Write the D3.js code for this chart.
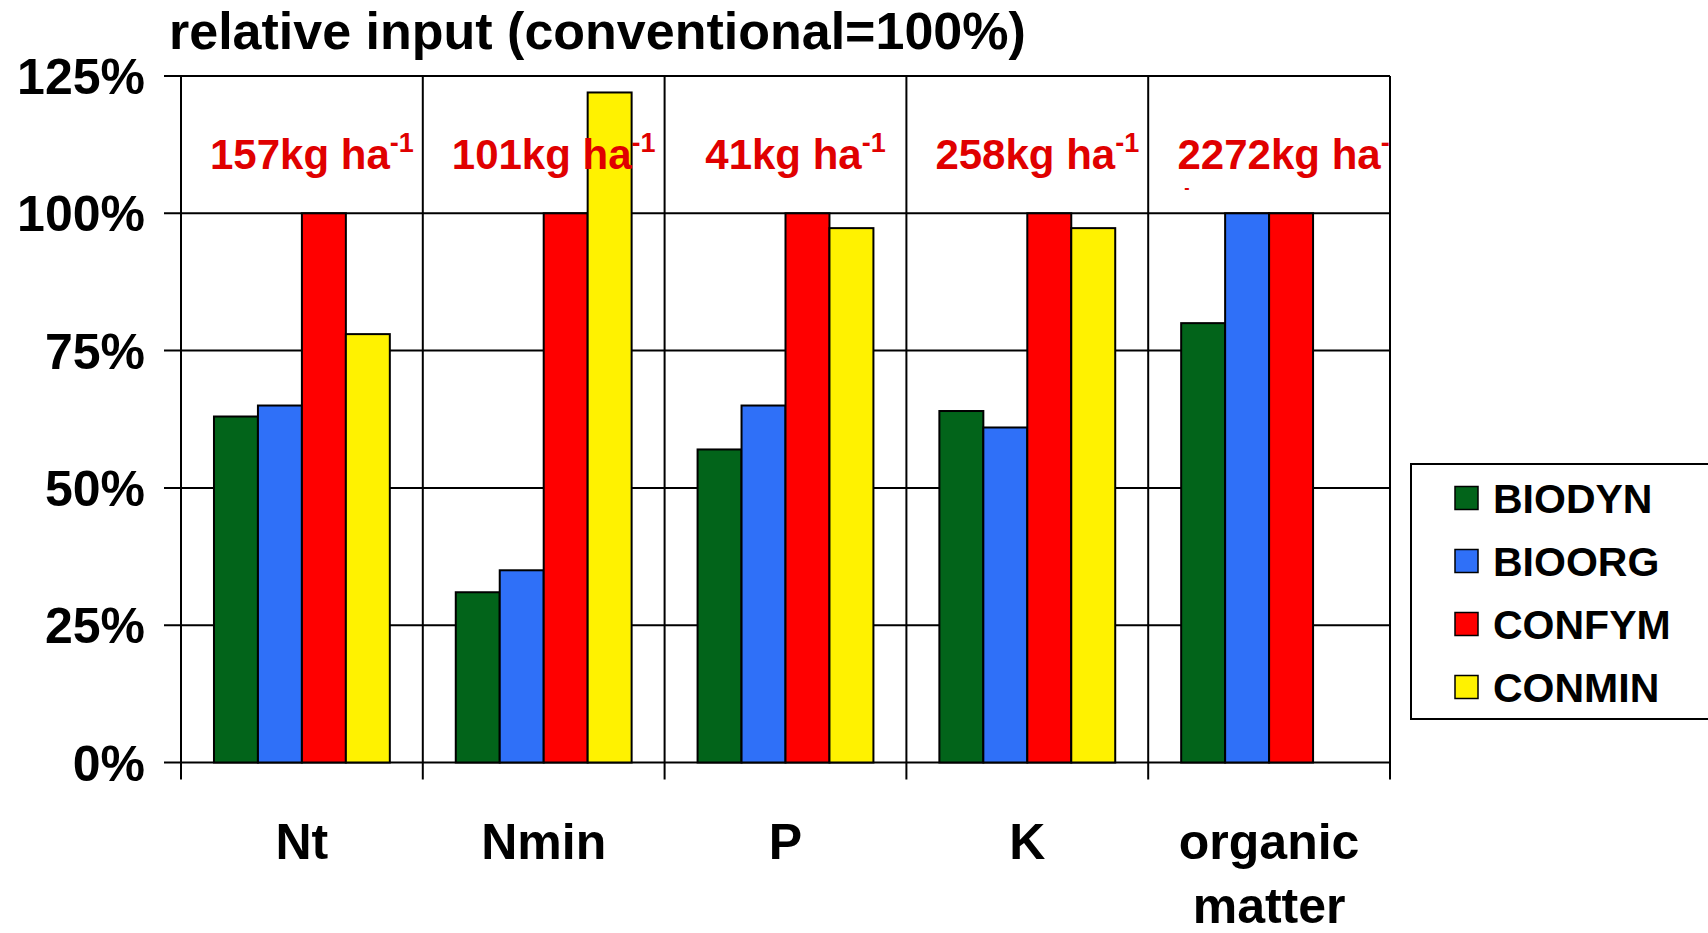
<!DOCTYPE html>
<html>
<head>
<meta charset="utf-8">
<script src="https://cdn.jsdelivr.net/npm/d3@7"></script>
<style>
  html, body { margin: 0; padding: 0; background: #fff; }
  svg { display: block; font-family: "Liberation Sans", Arial, sans-serif; font-weight: bold; }
</style>
</head>
<body>
<svg id="chart" width="1708" height="933"></svg>
<script>
// Nutrient categories and their label lines
const categories = ["Nt", "Nmin", "P", "K", "organic matter"];
const categoryLines = [["Nt"], ["Nmin"], ["P"], ["K"], ["organic", "matter"]];

// Farming systems
const series = ["BIODYN", "BIOORG", "CONFYM", "CONMIN"];
const seriesColors = ["#02641a", "#2f70f8", "#ff0000", "#fff200"];

// Relative input in % (conventional = 100%), per system across categories
const biodyn = [63, 31, 57, 64, 80];
const bioorg = [65, 35, 65, 61, 100];
const confym = [100, 100, 100, 100, 100];
const conmin = [78, 122, 97.3, 97.3, null];

// Absolute conventional input per category (kg ha-1)
const absoluteInput = ["157", "101", "41", "258", "2272"];

// Y axis ticks
const yTicks = [0, 25, 50, 75, 100, 125];

const values = [biodyn, bioorg, confym, conmin];

const svg = d3.select("#chart");

const plot = { left: 181, right: 1390, top: 76, bottom: 762.5 };

const x = d3.scaleBand().domain(categories).range([plot.left, plot.right]).padding(0);
const xs = d3.scaleBand().domain(series).range([0, x.bandwidth()]).paddingInner(0).paddingOuter(0.75);
const y = d3.scaleLinear().domain([0, 125]).range([plot.bottom, plot.top]);

// Title
svg.append("text")
  .attr("x", 169).attr("y", 49)
  .attr("font-size", 52)
  .attr("fill", "#000")
  .text("relative input (conventional=100%)");

// Horizontal gridlines
svg.append("g").selectAll("line").data(yTicks).join("line")
  .attr("x1", plot.left - 17).attr("x2", plot.right)
  .attr("y1", d => y(d)).attr("y2", d => y(d))
  .attr("stroke", "#000").attr("stroke-width", 2);

// Vertical category dividers with ticks below the axis
const boundaries = categories.map(c => x(c)).concat([plot.right]);
svg.append("g").selectAll("line").data(boundaries).join("line")
  .attr("x1", d => d).attr("x2", d => d)
  .attr("y1", plot.top).attr("y2", plot.bottom + 17)
  .attr("stroke", "#000").attr("stroke-width", 2);

// Y tick labels
svg.append("g").selectAll("text").data(yTicks).join("text")
  .attr("x", 145).attr("y", d => y(d))
  .attr("dy", "0.36em")
  .attr("text-anchor", "end")
  .attr("font-size", 50)
  .text(d => d + "%");

// Bars
const barData = [];
categories.forEach((c, i) => {
  series.forEach((s, j) => {
    const v = values[j][i];
    if (v != null) barData.push({ c, s, v, color: seriesColors[j] });
  });
});
svg.append("g").selectAll("rect").data(barData).join("rect")
  .attr("x", d => x(d.c) + xs(d.s))
  .attr("y", d => y(d.v))
  .attr("width", xs.bandwidth())
  .attr("height", d => y(0) - y(d.v))
  .attr("fill", d => d.color)
  .attr("stroke", "#000").attr("stroke-width", 2);

// Absolute input labels (clipped at the plot frame)
svg.append("clipPath").attr("id", "plotClip")
  .append("rect")
  .attr("x", plot.left).attr("y", plot.top - 40)
  .attr("width", plot.right - plot.left).attr("height", plot.bottom - plot.top + 40);

const lbl = svg.append("g").attr("clip-path", "url(#plotClip)");
categories.forEach((c, i) => {
  const t = lbl.append("text")
    .attr("x", x(c) + x.bandwidth() / 2 + (i === 4 ? 22 : 10))
    .attr("y", 169)
    .attr("text-anchor", "middle")
    .attr("font-size", 42)
    .attr("fill", "#e00000");
  t.append("tspan").text(absoluteInput[i] + "kg ha");
  t.append("tspan").attr("font-size", 27).attr("dy", -17).text("-1");
});
// stray wrapped dash under the last label
lbl.append("text")
  .attr("x", x(categories[4]) + 36).attr("y", 193)
  .attr("font-size", 16).attr("fill", "#e00000")
  .text("-");

// Category labels
categories.forEach((c, i) => {
  const t = svg.append("text")
    .attr("x", x(c) + x.bandwidth() / 2)
    .attr("y", 859)
    .attr("text-anchor", "middle")
    .attr("font-size", 50);
  categoryLines[i].forEach((line, k) => {
    t.append("tspan")
      .attr("x", x(c) + x.bandwidth() / 2)
      .attr("dy", k === 0 ? 0 : 64)
      .text(line);
  });
});

// Legend
const legend = svg.append("g");
legend.append("rect")
  .attr("x", 1411).attr("y", 464)
  .attr("width", 330).attr("height", 255)
  .attr("fill", "#fff").attr("stroke", "#000").attr("stroke-width", 2);
series.forEach((s, j) => {
  const cy = 498 + j * 63;
  legend.append("rect")
  .attr("x", 1455).attr("y", cy - 11.5)
  .attr("width", 23).attr("height", 23)
  .attr("fill", seriesColors[j]).attr("stroke", "#000").attr("stroke-width", 1.5);
  legend.append("text")
    .attr("x", 1493).attr("y", cy)
    .attr("dy", "0.36em")
    .attr("font-size", 41)
    .text(s);
});
</script>
</body>
</html>
